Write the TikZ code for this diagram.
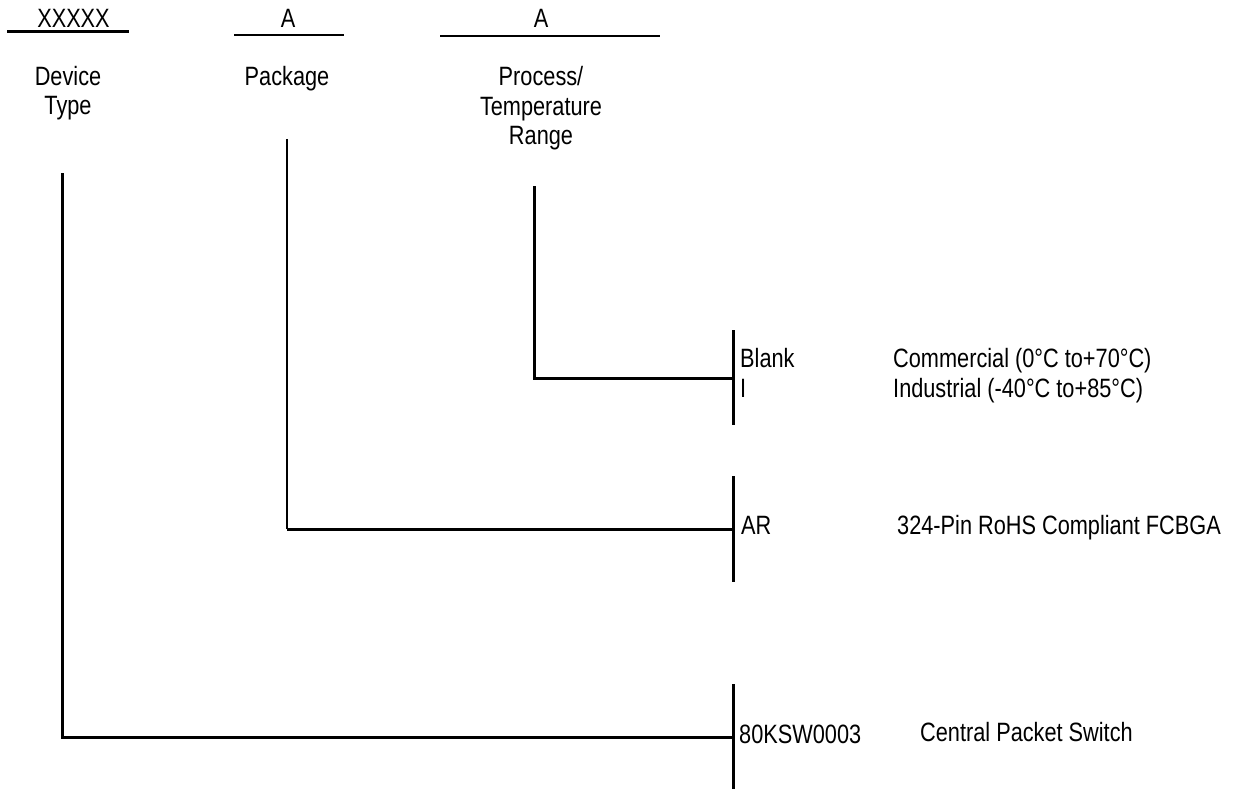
\documentclass[tikz,border=0pt]{standalone}
\usepackage{fontspec}
\setmainfont{Liberation Sans}[FakeStretch=0.82]
\begin{document}
\begin{tikzpicture}[x=1pt,y=-1pt,
  every node/.style={inner sep=0pt, font=\fontsize{26.5}{30}\selectfont},
  lbl/.style={anchor=base west},
  ttl/.style={anchor=base},
  rule/.style={line width=2.5pt},
  wire/.style={line width=3pt},
  thinwire/.style={line width=1.8pt}]
\path[use as bounding box] (0,0) rectangle (1239,789);

% header rules and letters
\coordinate (r1a) at (7,31.5);   \coordinate (r1b) at (129,31.5);
\coordinate (r2a) at (234,35);   \coordinate (r2b) at (344,35);
\coordinate (r3a) at (440,36);   \coordinate (r3b) at (660,36);
\draw[rule] (r1a) -- (r1b);
\draw[rule] (r2a) -- (r2b);
\draw[rule] (r3a) -- (r3b);
\node[ttl] (xx) at (73.5,28) {XXXXX};
\node[ttl] (pa) at (288,28) {A};
\node[ttl] (ta) at (541,28) {A};

% field titles
\node[ttl] (dev1) at (68,86) {Device};
\node[ttl] (dev2) at (68,115) {Type};
\node[ttl] (pkg) at (287,86) {Package};
\node[ttl] (pr1) at (541,86) {Process/};
\node[ttl] (pr2) at (541,116) {Temperature};
\node[ttl] (pr3) at (541,145) {Range};

% vertical bars on the right
\coordinate (b1t) at (733,330); \coordinate (b1b) at (733,425);
\coordinate (b2t) at (733,476); \coordinate (b2b) at (733,582);
\coordinate (b3t) at (733,684); \coordinate (b3b) at (733,789);
\draw[wire] (b1t) -- (b1b);
\draw[wire] (b2t) -- (b2b);
\draw[wire] (b3t) -- (b3b);

% connectors
\coordinate (d0) at (62,173);  \coordinate (d1) at (62,737);  \coordinate (d2) at (733,737);
\coordinate (p0) at (287,139); \coordinate (p1) at (287,529); \coordinate (p2) at (733,529);
\coordinate (t0) at (534,186); \coordinate (t1) at (534,378); \coordinate (t2) at (733,378);
\draw[wire] (d0) -- (d1) -- (d2);
\draw[thinwire] (p0) -- (p1);
\draw[wire] (p1) -- (p2);
\draw[wire] (t0) -- (t1) -- (t2);

% option labels
\node[lbl] (blank) at (740,367) {Blank};
\node[lbl] (ind) at (740,397) {I};
\node[lbl] (com) at (893,367) {Commercial (0°C to+70°C)};
\node[lbl] (indd) at (893,397) {Industrial (-40°C to+85°C)};
\node[lbl] (ar) at (741,534) {AR};
\node[lbl] (ard) at (897,534) {324-Pin RoHS Compliant FCBGA};
\node[lbl] (kw) at (739,743) {80KSW0003};
\node[lbl] (kwd) at (920,741) {Central Packet Switch};
\end{tikzpicture}
\end{document}
